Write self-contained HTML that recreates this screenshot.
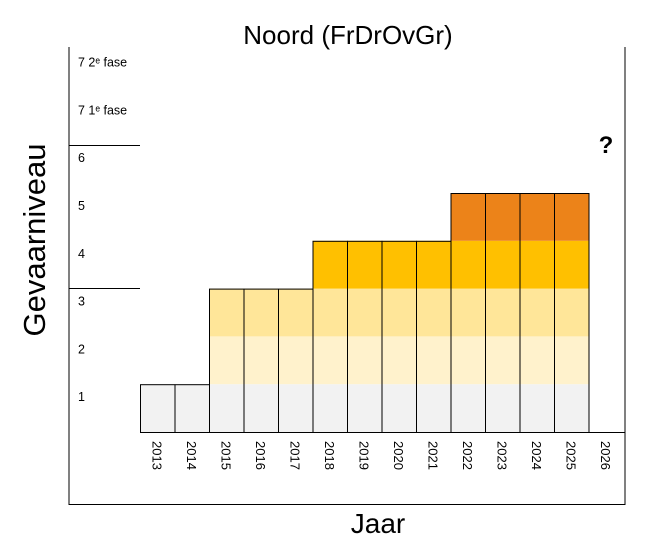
<!DOCTYPE html>
<html><head><meta charset="utf-8"><style>
body{margin:0;background:#fff;}
svg{display:block;font-family:"Liberation Sans",sans-serif;}
</style></head><body>
<svg id="c" width="655" height="557">
<text x="348" y="44" font-size="26" text-anchor="middle">Noord (FrDrOvGr)</text>
<text transform="translate(45,240) rotate(-90)" font-size="31" text-anchor="middle">Gevaarniveau</text>
<text x="378" y="533" font-size="28" text-anchor="middle">Jaar</text>
<text x="606" y="153" font-size="24" font-weight="bold" text-anchor="middle">?</text>
<line x1="69" y1="47" x2="69" y2="505" stroke="#000"/>
<line x1="625" y1="47" x2="625" y2="505" stroke="#000"/>
<line x1="69" y1="504.5" x2="625" y2="504.5" stroke="#000"/>
<line x1="69" y1="145.5" x2="140" y2="145.5" stroke="#000"/>
<line x1="69" y1="288.5" x2="140" y2="288.5" stroke="#000"/>
<g id="bars"></g><g id="labels"></g>
</svg>
<script>
const years=["2013","2014","2015","2016","2017","2018","2019","2020","2021","2022","2023","2024","2025","2026"];
const levels=[1,1,3,3,3,4,4,4,4,5,5,5,5,0];
const levelLabels=["1","2","3","4","5","6","7 1ᵉ fase","7 2ᵉ fase"];
const bandColors=["#f2f2f2","#fff2cc","#ffe699","#ffc000","#ec8319"];
const NS="http://www.w3.org/2000/svg";
const x0=140,colW=34.5,yBase=432,lvlH=47.8;
const xs=i=>x0+i*colW, ys=v=>yBase-v*lvlH;
const g=document.getElementById('bars'),lg=document.getElementById('labels');
function mk(t,a,p){const e=document.createElementNS(NS,t);for(const k in a)e.setAttribute(k,a[k]);p.appendChild(e);return e;}
years.forEach((yr,i)=>{
  const v=levels[i];
  for(let b=0;b<v;b++){
    const r=mk('rect',{x:xs(i),y:ys(b+1),width:colW,height:lvlH,fill:bandColors[b]},g);
    
    
  }
  if(v>0){
    const o=mk('rect',{x:xs(i)+0.5,y:ys(v)+0.5,width:colW,height:v*lvlH,fill:'none',stroke:'#000'},g);
    
    
  }
  const t=mk('text',{transform:`translate(${xs(i)+colW/2-5},441) rotate(90)`,'font-size':'13'},lg);
  t.textContent=yr;
  
  
});
mk('line',{x1:x0,y1:yBase+0.5,x2:625,y2:yBase+0.5,stroke:'#000'},g);
levelLabels.forEach((l,i)=>{
  const t=mk('text',{x:78,y:ys(i+1)+17,'font-size':'12.5'},lg);
  t.textContent=l;
  
  
});
</script>
</body></html>
